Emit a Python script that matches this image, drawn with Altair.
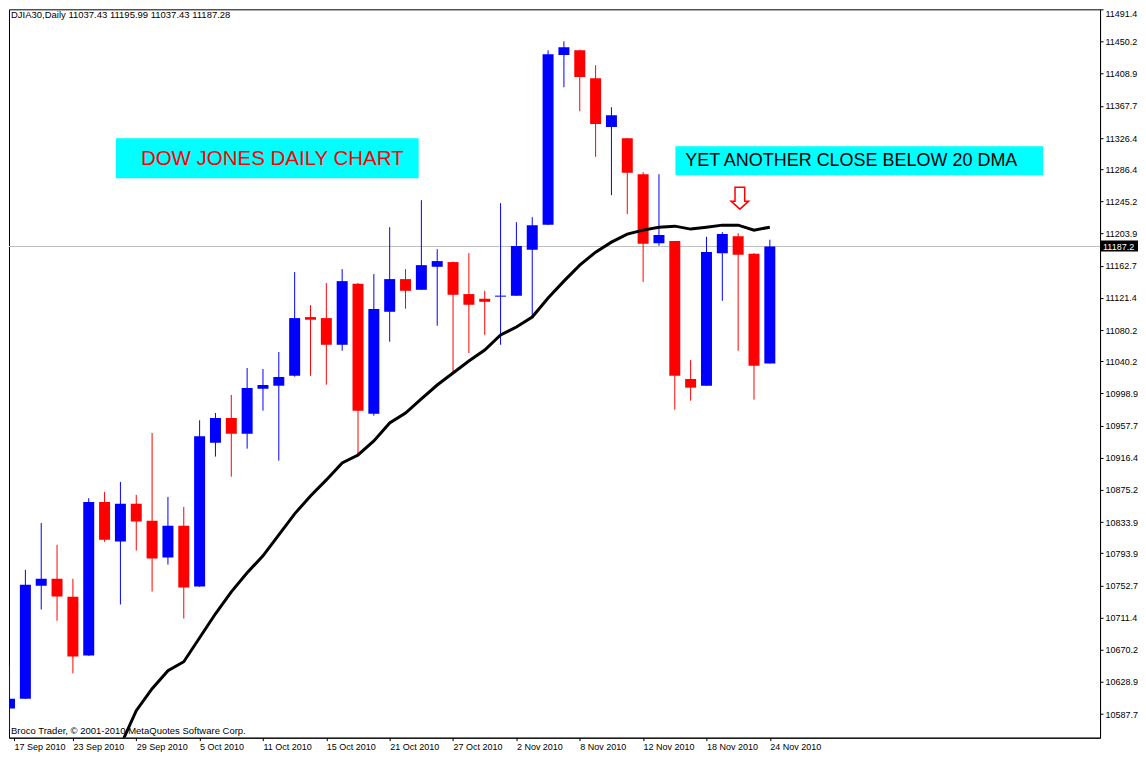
import math
import altair as alt
import pandas as pd

# ---------------- data ----------------
dates = ["17 Sep 2010", "20 Sep 2010", "21 Sep 2010", "22 Sep 2010", "23 Sep 2010",
         "24 Sep 2010", "27 Sep 2010", "28 Sep 2010", "29 Sep 2010", "30 Sep 2010",
         "1 Oct 2010", "4 Oct 2010", "5 Oct 2010", "6 Oct 2010", "7 Oct 2010",
         "8 Oct 2010", "11 Oct 2010", "12 Oct 2010", "13 Oct 2010", "14 Oct 2010",
         "15 Oct 2010", "18 Oct 2010", "19 Oct 2010", "20 Oct 2010", "21 Oct 2010",
         "22 Oct 2010", "25 Oct 2010", "26 Oct 2010", "27 Oct 2010", "28 Oct 2010",
         "29 Oct 2010", "1 Nov 2010", "2 Nov 2010", "3 Nov 2010", "4 Nov 2010",
         "5 Nov 2010", "8 Nov 2010", "9 Nov 2010", "10 Nov 2010", "11 Nov 2010",
         "12 Nov 2010", "15 Nov 2010", "16 Nov 2010", "17 Nov 2010", "18 Nov 2010",
         "19 Nov 2010", "22 Nov 2010", "23 Nov 2010", "24 Nov 2010"]

opens = [10595.0, 10607.5, 10752.2, 10761.2, 10738.1, 10662.9, 10859.8, 10809.0, 10857.3, 10835.5,
         10788.5, 10829.1, 10751.3, 10935.8, 10967.4, 10947.3, 11005.0, 11008.8, 11021.6, 11096.8,
         11095.5, 11061.3, 11139.5, 10973.0, 11103.6, 11145.5, 11131.8, 11161.3, 11167.3, 11126.3,
         11120.3, 11123.0, 11124.1, 11183.0, 11215.1, 11432.9, 11438.9, 11403.0, 11340.6, 11326.1,
         11280.0, 11191.6, 11194.2, 11017.4, 11008.8, 11178.8, 11200.6, 11177.9, 11037.43]

highs = [10649.7, 10772.7, 10832.9, 10804.7, 10761.2, 10864.6, 10872.6, 10885.5, 10868.8, 10948.2,
         10866.2, 10853.4, 10964.5, 10973.8, 10996.9, 11031.5, 11030.2, 11052.0, 11154.5, 11112.2,
         11140.4, 11158.3, 11140.5, 11151.9, 11212.1, 11158.3, 11246.7, 11183.9, 11168.0, 11178.8,
         11130.5, 11242.9, 11218.5, 11224.9, 11438.9, 11450.4, 11439.5, 11419.7, 11365.9, 11326.5,
         11282.6, 11280.0, 11194.5, 11041.7, 11199.7, 11205.7, 11204.4, 11178.8, 11195.99]

lows = [10567.8, 10607.0, 10721.9, 10707.4, 10639.9, 10662.5, 10808.6, 10728.3, 10797.4, 10744.9,
        10779.5, 10710.3, 10751.0, 10917.9, 10892.2, 10928.1, 10976.8, 10912.7, 11020.4, 11021.6,
        11010.1, 11053.7, 10917.9, 10970.4, 11065.2, 11107.5, 11131.5, 11085.7, 11025.1, 11050.7,
        11074.2, 11061.3, 11124.0, 11095.5, 11215.0, 11391.5, 11360.7, 11302.2, 11253.1, 11228.8,
        11142.0, 11188.2, 10978.1, 10989.6, 11008.5, 11117.7, 11053.7, 10990.9, 11037.43]

closes = [10607.5, 10753.5, 10761.2, 10738.5, 10661.7, 10859.8, 10811.2, 10857.3, 10834.6, 10787.2,
          10829.1, 10750.0, 10944.0, 10967.4, 10947.3, 11005.9, 11009.7, 11020.0, 11095.5, 11093.4,
          11061.3, 11142.9, 10976.8, 11107.1, 11145.5, 11130.5, 11163.4, 11168.6, 11125.4, 11112.6,
          11116.4, 11124.3, 11187.8, 11214.7, 11433.8, 11442.7, 11404.7, 11344.5, 11355.6, 11281.7,
          11190.7, 11201.9, 11021.6, 11006.3, 11180.1, 11203.2, 11176.6, 11034.4, 11187.28]

# 20-day moving average as drawn (starts at bar 6, below the visible range)
ma_start = 6
ma20 = [10506.3, 10547.2, 10592.1, 10620.3, 10643.3, 10654.9, 10685.6, 10716.4, 10744.5, 10768.9,
        10790.7, 10817.6, 10844.5, 10867.5, 10888.0, 10909.8, 10920.0, 10938.0, 10961.0, 10973.8,
        10991.8, 11009.7, 11025.1, 11040.5, 11054.6, 11073.8, 11084.0, 11096.8, 11121.2, 11142.9,
        11163.4, 11180.1, 11192.9, 11203.2, 11208.3, 11212.1, 11213.4, 11209.6, 11212.1, 11214.7,
        11214.7, 11208.3, 11212.1]

y_ticks = [11491.4, 11450.2, 11408.9, 11367.7, 11326.4, 11286.4, 11245.2, 11203.9, 11162.7,
           11121.4, 11080.2, 11040.2, 10998.9, 10957.7, 10916.4, 10875.2, 10833.9, 10793.9,
           10752.7, 10711.4, 10670.2, 10628.9, 10587.7, 10547.7]

label_every = 4
header_text = "DJIA30,Daily  11037.43 11195.99 11037.43 11187.28"
copyright_text = "Broco Trader, \u00a9 2001-2010 MetaQuotes Software Corp."
note1 = "DOW JONES DAILY CHART"
note2 = "YET ANOTHER CLOSE BELOW 20 DMA"

# ---------------- layout ----------------
FONT = "Liberation Sans"
W, H = 1092, 729
PX_PER_BAR = 16.0
PX_PER_PT = 0.7806
x_lo = 0.28125
x_dom = [x_lo, x_lo + W / PX_PER_BAR]
y_top = 11491.4
y_dom = [round(y_top - H / PX_PER_PT, 2), y_top]

n = len(dates)
df = pd.DataFrame({"i": list(range(n)), "date": dates, "open": opens, "high": highs,
                   "low": lows, "close": closes})
df["dir"] = ["up" if c >= o else "down" for o, c in zip(opens, closes)]
ma_df = pd.DataFrame({"i": list(range(ma_start, ma_start + len(ma20))), "ma": ma20})
last_p = closes[-1]
last_df = pd.DataFrame({"p": [last_p], "lbl": ["%.1f" % (math.floor(last_p * 10) / 10)]})

x_vals = [x_lo] + list(range(label_every, n, label_every))
label_js = "[" + ",".join("'%s'" % d for d in dates) + "][round(datum.value)]"
y_vals = [v for v in y_ticks if y_dom[0] <= v <= y_dom[1]]

x_axis = alt.Axis(values=x_vals, labelExpr=label_js, title=None, grid=False, tickSize=3,
                  tickColor="black", domainColor="black", labelAlign="left", labelBaseline="top",
                  labelPadding=2, labelFont=FONT, labelFontSize=9, labelColor="black",
                  labelOverlap=False, labelFlush=False)
y_axis = alt.Axis(values=y_vals, format=".1f", orient="right", title=None, grid=False,
                  tickSize=3, tickColor="black", domainColor="black", labelPadding=2,
                  labelFont=FONT, labelFontSize=9, labelColor="black", labelOverlap=False,
                  labelBaseline={"condition": {"test": "datum.value > 11480", "value": "top"},
                                 "value": "middle"})

x_scale = alt.Scale(domain=x_dom, nice=False, zero=False)
y_scale = alt.Scale(domain=y_dom, nice=False, zero=False)


def X():
    return alt.X("i:Q", scale=x_scale, axis=x_axis)


def Y(field):
    return alt.Y(field, scale=y_scale, axis=y_axis)


color_enc = alt.Color("dir:N", scale=alt.Scale(domain=["up", "down"], range=["#0000FF", "#FF0000"]),
                      legend=None)

price_line = alt.Chart(last_df).mark_rule(color="#C0C0C0", strokeWidth=1).encode(y=Y("p:Q"))

wicks = alt.Chart(df).mark_rule(strokeWidth=1, clip=True).encode(
    x=X(), y=Y("low:Q"), y2="high:Q", color=color_enc)

bodies = alt.Chart(df).mark_bar(size=11, clip=True, minBandSize=1).encode(
    x=X(), y=Y("open:Q"), y2="close:Q", color=color_enc)

ma_line = alt.Chart(ma_df).mark_line(color="black", strokeWidth=3, clip=True).encode(
    x=X(), y=Y("ma:Q"))

one1 = pd.DataFrame({"t": [note1]})
one2 = pd.DataFrame({"t": [note2]})
box1 = alt.Chart(one1).mark_rect(color="#00FFFF").encode(
    x=alt.value(107), x2=alt.value(410), y=alt.value(129), y2=alt.value(169))
txt1 = alt.Chart(one1).mark_text(color="#FF0000", font=FONT, fontSize=20.5, align="center",
                                 baseline="middle").encode(
    x=alt.value(263.5), y=alt.value(150), text="t:N")
box2 = alt.Chart(one2).mark_rect(color="#00FFFF").encode(
    x=alt.value(667), x2=alt.value(1035), y=alt.value(137), y2=alt.value(166))
txt2 = alt.Chart(one2).mark_text(color="#000000", font=FONT, fontSize=18, align="center",
                                 baseline="middle").encode(
    x=alt.value(843), y=alt.value(152), text="t:N")

arrow_path = "M-0.44,-1 L0.44,-1 L0.44,0.27 L0.8,0.27 L0,1 L-0.8,0.27 L-0.44,0.27 Z"
arrow = alt.Chart(one2).mark_point(shape=arrow_path, size=484, filled=False, stroke="#FF0000",
                                   strokeWidth=1.5, opacity=1).encode(
    x=alt.value(731.5), y=alt.value(189))

hdr_df = pd.DataFrame({"t": [header_text]})
hdr = alt.Chart(hdr_df).mark_text(font=FONT, fontSize=9.5, color="black", align="left",
                                  baseline="top").encode(
    x=alt.value(2), y=alt.value(1), text="t:N")

cp_df = pd.DataFrame({"t": [copyright_text]})
cp = alt.Chart(cp_df).mark_text(font=FONT, fontSize=9.5, color="black", align="left",
                                baseline="middle").encode(
    x=alt.value(2), y=alt.value(H - 7), text="t:N")

pbox = alt.Chart(last_df).mark_rect(color="black", yOffset=-6, y2Offset=5).encode(
    x=alt.value(W + 1), x2=alt.value(W + 38), y=Y("p:Q"), y2="p:Q")
ptxt = alt.Chart(last_df).mark_text(font=FONT, fontSize=9, color="white", align="left",
                                    baseline="middle").encode(
    x=alt.value(W + 3), y=Y("p:Q"), text="lbl:N")

chart = alt.layer(price_line, wicks, bodies, ma_line, box1, txt1, box2, txt2, arrow, hdr, cp,
                  pbox, ptxt).properties(
    width=W, height=H, padding=0, background="white"
).configure_view(stroke="black", strokeWidth=1)

chart.save("out.html", embed_options={"renderer": "svg", "actions": False})
